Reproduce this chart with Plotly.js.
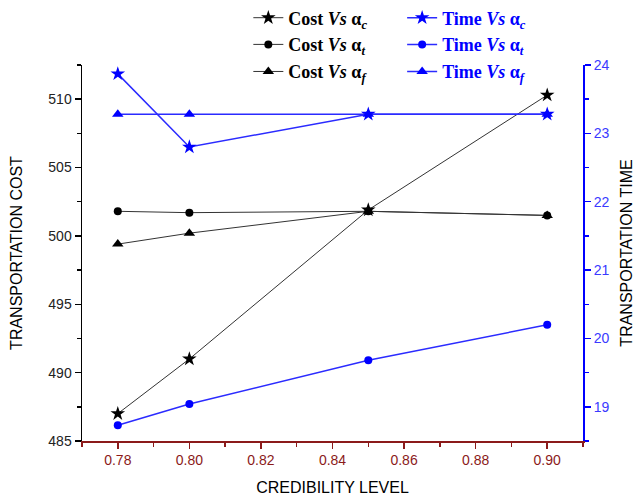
<!DOCTYPE html>
<html>
<head>
<meta charset="utf-8">
<script src="https://cdn.plot.ly/plotly-3.0.1.min.js"></script>
<style>
  html, body { margin: 0; padding: 0; background: #fff; }
  #chart { width: 644px; height: 497px; }
</style>
</head>
<body>
<div id="chart"></div>
<script>
// ---- data ----
var credibility = [0.78, 0.80, 0.85, 0.90];

var costVsAlphaC = [487.0, 491.0, 501.9, 510.3];
var costVsAlphaT = [501.8, 501.7, 501.8, 501.5];
var costVsAlphaF = [499.4, 500.2, 501.8, 501.5];

var timeVsAlphaC = [23.87, 22.80, 23.28, 23.28];
var timeVsAlphaT = [18.73, 19.04, 19.68, 20.20];
var timeVsAlphaF = [23.28, 23.28, 23.28, 23.28];

var legendNames = {
  costC: '<b>Cost <i>Vs</i> α<sub><i>c</i></sub></b>',
  costT: '<b>Cost <i>Vs</i> α<sub><i>t</i></sub></b>',
  costF: '<b>Cost <i>Vs</i> α<sub><i>f</i></sub></b>',
  timeC: '<b>Time <i>Vs</i> α<sub><i>c</i></sub></b>',
  timeT: '<b>Time <i>Vs</i> α<sub><i>t</i></sub></b>',
  timeF: '<b>Time <i>Vs</i> α<sub><i>f</i></sub></b>'
};

var BLACK = '#000000';
var BLUE = '#0000ff';
var LINE_BLACK = '#333333';
var LINE_BLUE = '#2b2bff';
var DARKRED = '#8b1a1a';

function costTrace(y, name, symbol, size, legendId) {
  return {
    x: credibility, y: y, name: name, type: 'scatter', mode: 'lines+markers',
    xaxis: 'x', yaxis: 'y', legend: legendId,
    line: {color: LINE_BLACK, width: 1},
    marker: {symbol: symbol, size: size, color: BLACK}
  };
}
function timeTrace(y, name, symbol, size, legendId) {
  return {
    x: credibility, y: y, name: name, type: 'scatter', mode: 'lines+markers',
    xaxis: 'x', yaxis: 'y2', legend: legendId,
    line: {color: LINE_BLUE, width: 1.5},
    marker: {symbol: symbol, size: size, color: BLUE}
  };
}

var data = [
  costTrace(costVsAlphaC, legendNames.costC, 'star', 11, 'legend'),
  costTrace(costVsAlphaT, legendNames.costT, 'circle', 8, 'legend2'),
  costTrace(costVsAlphaF, legendNames.costF, 'triangle-up', 10, 'legend3'),
  timeTrace(timeVsAlphaC, legendNames.timeC, 'star', 11, 'legend4'),
  timeTrace(timeVsAlphaT, legendNames.timeT, 'circle', 8, 'legend5'),
  timeTrace(timeVsAlphaF, legendNames.timeF, 'triangle-up', 10, 'legend6')
];

var tickFont = {family: 'Liberation Sans, Arial, sans-serif', size: 14};
var titleFont = {family: 'Liberation Sans, Arial, sans-serif', size: 16, color: '#000'};
var legendFontBase = {family: 'Liberation Serif, Times New Roman, serif', size: 18};

function legendAt(x, y, color) {
  return {
    x: x, xanchor: 'left', y: y, yanchor: 'middle',
    bgcolor: 'rgba(0,0,0,0)', borderwidth: 0,
    font: Object.assign({}, legendFontBase, {color: color})
  };
}

var colCost = 0.332, colTime = 0.639;
var row1 = 1.125, row2 = 1.054, row3 = 0.982;

var layout = {
  width: 644, height: 497,
  paper_bgcolor: '#fff', plot_bgcolor: '#fff',
  margin: {l: 82, r: 61, t: 65, b: 56, autoexpand: false},
  showlegend: true,
  xaxis: {
    range: [0.77, 0.91],
    tick0: 0.78, dtick: 0.02, tickformat: '.2f',
    ticks: 'outside', ticklen: 6, tickwidth: 1.5, tickcolor: DARKRED,
    minor: {dtick: 0.01, ticklen: 4, tickwidth: 1.5, tickcolor: DARKRED, showgrid: false},
    showline: true, linecolor: DARKRED, linewidth: 1.5,
    showgrid: false, zeroline: false,
    tickfont: Object.assign({}, tickFont, {color: DARKRED}),
    title: {text: 'CREDIBILITY LEVEL', font: titleFont, standoff: 14}
  },
  yaxis: {
    range: [485, 512.5],
    tick0: 485, dtick: 5,
    ticks: 'outside', ticklen: 6, tickwidth: 1.5, tickcolor: '#000',
    minor: {dtick: 2.5, ticklen: 4, tickwidth: 1.5, tickcolor: '#000', showgrid: false},
    showline: true, linecolor: '#000', linewidth: 1.5,
    showgrid: false, zeroline: false,
    tickfont: Object.assign({}, tickFont, {color: '#222'}),
    title: {text: 'TRANSPORTATION COST', font: titleFont, standoff: 21}
  },
  yaxis2: {
    range: [18.5, 24],
    tick0: 19, dtick: 1,
    overlaying: 'y', side: 'right', anchor: 'x',
    ticks: 'outside', ticklen: 6, tickwidth: 1.5, tickcolor: BLUE,
    minor: {dtick: 0.5, ticklen: 4, tickwidth: 1.5, tickcolor: BLUE, showgrid: false},
    showline: true, linecolor: BLUE, linewidth: 2,
    showgrid: false, zeroline: false,
    tickfont: Object.assign({}, tickFont, {color: '#3a3aff'}),
    title: {text: 'TRANSPORTATION TIME', font: titleFont, standoff: 12}
  },
  legend: legendAt(colCost, row1, '#000'),
  legend2: legendAt(colCost, row2, '#000'),
  legend3: legendAt(colCost, row3, '#000'),
  legend4: legendAt(colTime, row1, BLUE),
  legend5: legendAt(colTime, row2, BLUE),
  legend6: legendAt(colTime, row3, BLUE)
};

Plotly.newPlot('chart', data, layout, {displayModeBar: false, staticPlot: true});
</script>
</body>
</html>
